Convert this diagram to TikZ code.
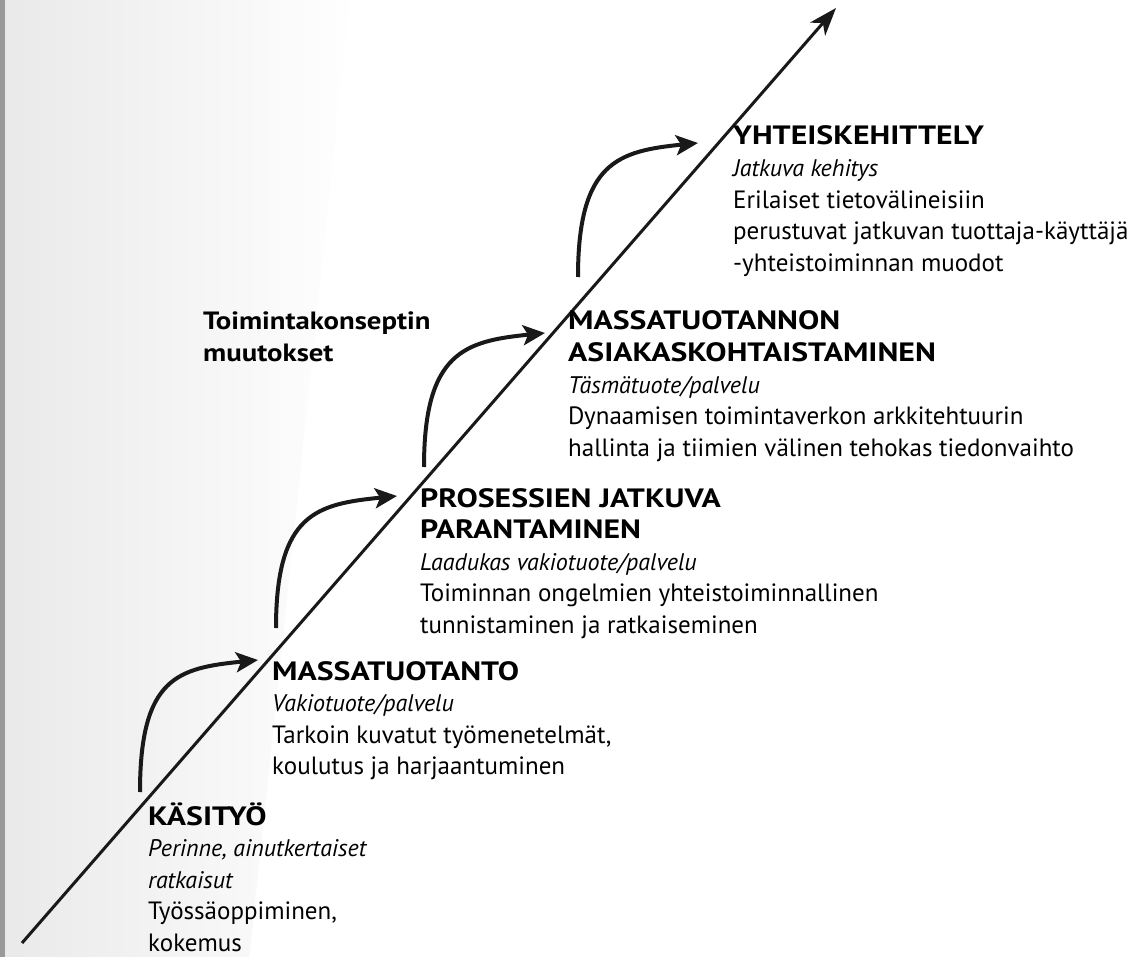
\documentclass[tikz,border=0pt]{standalone}
\usepackage{fontspec}
\setmainfont{PT Sans}
\newfontfamily\headfont{PT Sans}[FakeStretch=1.2]
\newfontfamily\labelfont{PT Sans}[FakeStretch=1.15]
\usetikzlibrary{arrows.meta}
\newcommand\blockhead[1]{{\headfont\bfseries\fontsize{26.5}{31.6}\selectfont #1}}
\newcommand\blocksub[1]{{\itshape\fontsize{24}{31.6}\selectfont #1}}
\tikzset{
  txt/.style={anchor=base west, inner sep=0pt, font=\fontsize{25}{31.6}\selectfont},
  mainline/.style={line width=3pt, draw=black!90, -{Stealth[length=28pt,width=20pt,inset=8pt]}},
  jump/.style={line width=4pt, draw=black!90, -{Stealth[length=22pt,width=20pt,inset=5pt]}}
}
\begin{document}
\begin{tikzpicture}[x=1pt,y=-1pt]
\useasboundingbox (0,0) rectangle (1148,957);
% background stipple fade
\begin{scope}
  \clip (0,0) rectangle (1148,957);
  \begin{scope}[rotate around={-6:(350,0)}]
    \shade[left color=black!12, middle color=black!6, right color=white] (-20,-100) rectangle (350,1200);
  \end{scope}
  \fill[black!40] (0,0) rectangle (5,957);
\end{scope}
% main axis
\coordinate (axS) at (22,943);
\coordinate (axE) at (836,8);
\draw[mainline] (axS) -- (axE);
% curved arrows
\coordinate (j1s) at (140,792); \coordinate (j1e) at (258,660);
\coordinate (j2s) at (276,628); \coordinate (j2e) at (397,496);
\coordinate (j3s) at (424,467); \coordinate (j3e) at (545,333);
\coordinate (j4s) at (578,277); \coordinate (j4e) at (698,143);
\foreach \i in {1,2,3,4}{
  \draw[jump] (j\i s) .. controls +(0,-115) and +(-80,8) .. (j\i e);
}
% texts
\node[txt] (kasityo) at (148,825) {\begin{tabular}[t]{@{}l@{}}\blockhead{KÄSITYÖ}\\ \blocksub{Perinne, ainutkertaiset}\\ \blocksub{ratkaisut}\\ Työssäoppiminen,\\ kokemus\end{tabular}};
\node[txt] (massa) at (272,680) {\begin{tabular}[t]{@{}l@{}}\blockhead{MASSATUOTANTO}\\ \blocksub{Vakiotuote/palvelu}\\ Tarkoin kuvatut työmenetelmät,\\ koulutus ja harjaantuminen\end{tabular}};
\node[txt] (prosessi) at (420,507) {\begin{tabular}[t]{@{}l@{}}\blockhead{PROSESSIEN JATKUVA}\\ \blockhead{PARANTAMINEN}\\ \blocksub{Laadukas vakiotuote/palvelu}\\ Toiminnan ongelmien yhteistoiminnallinen\\ tunnistaminen ja ratkaiseminen\end{tabular}};
\node[txt] (asiakas) at (568,330) {\begin{tabular}[t]{@{}l@{}}\blockhead{MASSATUOTANNON}\\ \blockhead{ASIAKASKOHTAISTAMINEN}\\ \blocksub{Täsmätuote/palvelu}\\ Dynaamisen toimintaverkon arkkitehtuurin\\ hallinta ja tiimien välinen tehokas tiedonvaihto\end{tabular}};
\node[txt] (yhteis) at (733,145) {\begin{tabular}[t]{@{}l@{}}\blockhead{YHTEISKEHITTELY}\\ \blocksub{Jatkuva kehitys}\\ Erilaiset tietovälineisiin\\ perustuvat jatkuvan tuottaja-käyttäjä\\ -yhteistoiminnan muodot\end{tabular}};
\node[txt] (muutos) at (203,330) {\begin{tabular}[t]{@{}l@{}}{\labelfont\bfseries Toimintakonseptin}\\ {\labelfont\bfseries muutokset}\end{tabular}};
\end{tikzpicture}
\end{document}
